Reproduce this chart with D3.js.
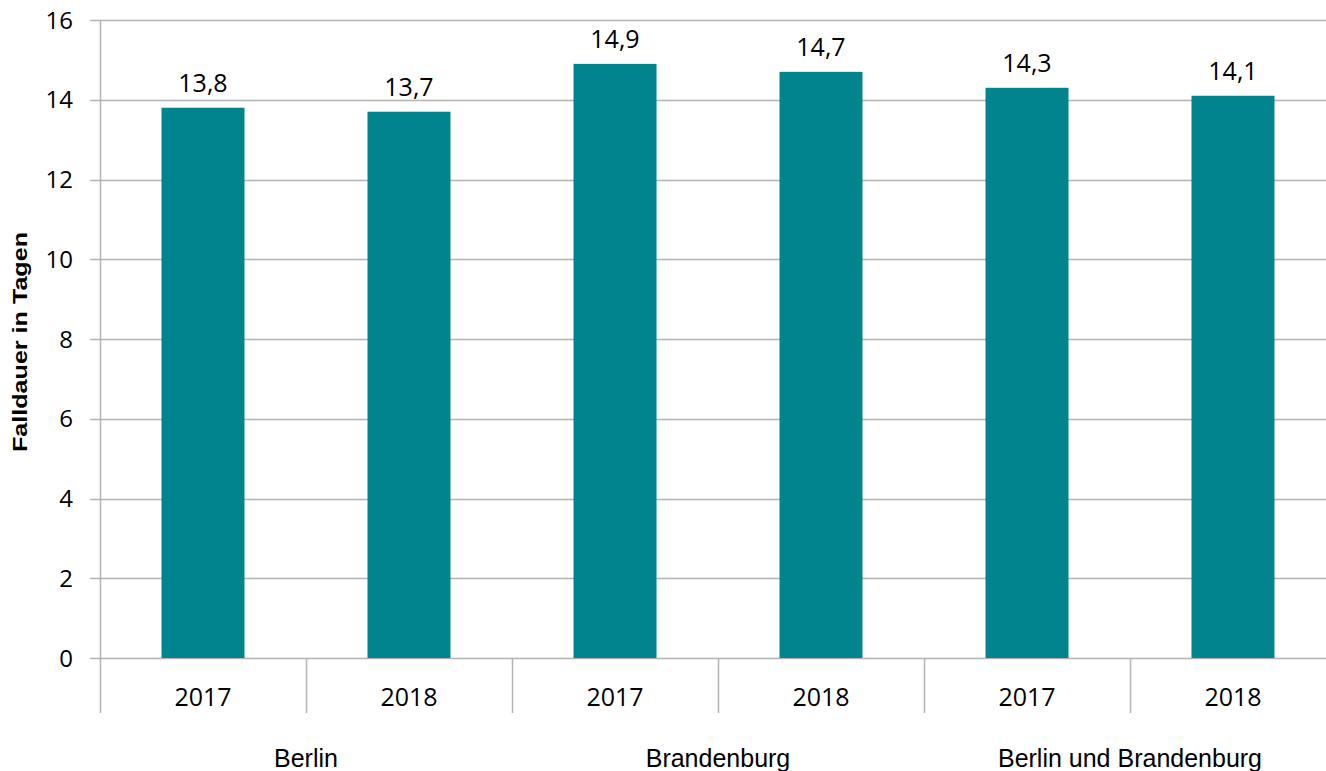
<!DOCTYPE html>
<html>
<head>
<meta charset="utf-8">
<script src="https://cdn.jsdelivr.net/npm/d3@7"></script>
<style>
  body { margin: 0; background: #fff; }
  svg { display: block; }
</style>
</head>
<body>
<div id="chart"></div>
<script>
const groups = ['Berlin', 'Brandenburg', 'Berlin und Brandenburg'];
const years = ['2017', '2018'];
const values = [13.8, 13.7, 14.9, 14.7, 14.3, 14.1];
const yTicks = [0, 2, 4, 6, 8, 10, 12, 14, 16];

const width = 1326, height = 771;
const margin = { left: 100, right: -10, top: 20, bottom: 113 };

const bars = [];
groups.forEach((g, gi) => {
  years.forEach((y, yi) => {
    bars.push({ key: gi + '-' + y, group: g, year: y, value: values[gi * years.length + yi] });
  });
});

const svg = d3.select('#chart')
  .append('svg')
  .attr('width', width)
  .attr('height', height);

const x = d3.scaleBand()
  .domain(bars.map(d => d.key))
  .range([margin.left, width - margin.right])
  .paddingInner(0)
  .paddingOuter(0);

const y = d3.scaleLinear()
  .domain([0, 16])
  .range([height - margin.bottom, margin.top]);

const grid = '#b3b3b3';
const numFont = 'Open Sans, Noto Sans, sans-serif';

// gridlines
svg.append('g')
  .selectAll('line')
  .data(yTicks)
  .enter().append('line')
  .attr('x1', margin.left - 10)
  .attr('x2', width)
  .attr('y1', d => Math.round(y(d)) + 0.5)
  .attr('y2', d => Math.round(y(d)) + 0.5)
  .attr('stroke', grid)
  .attr('stroke-width', 1.5);

// y axis line
svg.append('line')
  .attr('x1', margin.left + 0.5)
  .attr('x2', margin.left + 0.5)
  .attr('y1', y(16))
  .attr('y2', height - 58)
  .attr('stroke', grid)
  .attr('stroke-width', 1.5);

// y tick labels
svg.append('g')
  .selectAll('text')
  .data(yTicks)
  .enter().append('text')
  .attr('x', 73)
  .attr('y', d => y(d))
  .attr('dy', '0.36em')
  .attr('text-anchor', 'end')
  .attr('font-family', numFont)
  .attr('font-size', 24)
  .attr('fill', '#000')
  .text(d => d);

// category separators
svg.append('g')
  .selectAll('line')
  .data(bars.slice(1))
  .enter().append('line')
  .attr('x1', d => Math.round(x(d.key)) + 0.5)
  .attr('x2', d => Math.round(x(d.key)) + 0.5)
  .attr('y1', y(0))
  .attr('y2', height - 58)
  .attr('stroke', grid)
  .attr('stroke-width', 1.5);

// bars
const bw = 83;
svg.append('g')
  .selectAll('rect')
  .data(bars)
  .enter().append('rect')
  .attr('x', d => x(d.key) + (x.bandwidth() - bw) / 2)
  .attr('width', bw)
  .attr('y', d => y(d.value))
  .attr('height', d => y(0) - y(d.value))
  .attr('fill', '#02848e');

// value labels
svg.append('g')
  .selectAll('text')
  .data(bars)
  .enter().append('text')
  .attr('x', d => x(d.key) + x.bandwidth() / 2)
  .attr('y', d => y(d.value) - 16)
  .attr('text-anchor', 'middle')
  .attr('font-family', numFont)
  .attr('font-size', 25)
  .attr('fill', '#000')
  .text(d => d3.format('.1f')(d.value).replace('.', ','));

// year labels
svg.append('g')
  .selectAll('text')
  .data(bars)
  .enter().append('text')
  .attr('x', d => x(d.key) + x.bandwidth() / 2)
  .attr('y', 706)
  .attr('text-anchor', 'middle')
  .attr('font-family', numFont)
  .attr('font-size', 25)
  .attr('fill', '#000')
  .text(d => d.year);

// group labels
svg.append('g')
  .selectAll('text')
  .data(groups)
  .enter().append('text')
  .attr('x', (g, gi) => x(gi + '-' + years[0]) + x.bandwidth())
  .attr('y', 767)
  .attr('text-anchor', 'middle')
  .attr('font-family', 'Liberation Sans, Arial, sans-serif')
  .attr('font-size', 25)
  .attr('fill', '#000')
  .text(d => d);

// y axis title
svg.append('text')
  .attr('transform', 'translate(27, 342) rotate(-90)')
  .attr('text-anchor', 'middle')
  .attr('font-family', 'Liberation Sans, Arial, sans-serif')
  .attr('font-weight', 'bold')
  .attr('font-size', 20)
  .attr('textLength', 220)
  .attr('lengthAdjust', 'spacingAndGlyphs')
  .attr('fill', '#000')
  .text('Falldauer in Tagen');
</script>
</body>
</html>
